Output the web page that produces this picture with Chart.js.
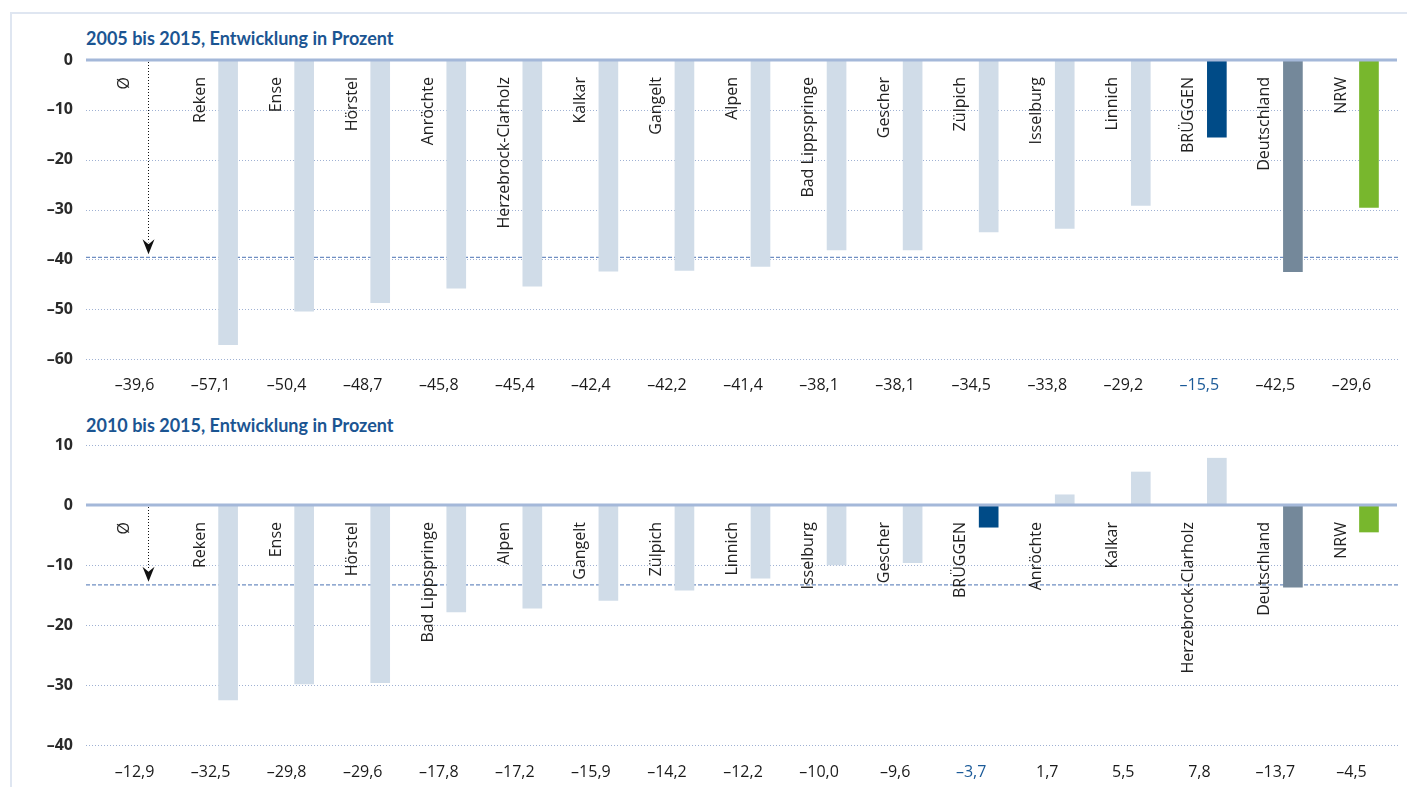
<!DOCTYPE html>
<html>
<head>
<meta charset="utf-8">
<script src="https://cdn.jsdelivr.net/npm/chart.js@4.4.0/dist/chart.umd.min.js"></script>
<style>
  html, body { margin: 0; padding: 0; background: #fff; overflow: hidden; }
  #wrap { position: relative; width: 1407px; height: 787px; }
  .frame-top { position: absolute; left: 10px; top: 12px; right: 0; height: 2px; background: #dfe6f1; }
  .frame-left { position: absolute; left: 10px; top: 12px; width: 2px; bottom: 0; background: #dfe6f1; }
  .title { position: absolute; left: 86px; font: bold 18px Lato, sans-serif; color: #1b5592; line-height: 20px; }
  canvas { position: absolute; left: 0; }
</style>
</head>
<body>
<div id="wrap">
  <div class="frame-top"></div>
  <div class="frame-left"></div>
  <div class="title" style="top:28px">2005 bis 2015, Entwicklung in Prozent</div>
  <div class="title" style="top:415px">2010 bis 2015, Entwicklung in Prozent</div>
  <canvas id="chartTop" width="1407" height="400" style="top:0"></canvas>
  <canvas id="chartBottom" width="1407" height="387" style="top:400px"></canvas>
</div>

<script>
// ---------- Daten 2005 bis 2015 ----------
const catsTop = ["Ø", "Reken", "Ense", "Hörstel", "Anröchte", "Herzebrock-Clarholz", "Kalkar", "Gangelt",
  "Alpen", "Bad Lippspringe", "Gescher", "Zülpich", "Isselburg", "Linnich", "BRÜGGEN", "Deutschland", "NRW"];
const valsTop = [-39.6, -57.1, -50.4, -48.7, -45.8, -45.4, -42.4, -42.2, -41.4, -38.1, -38.1, -34.5, -33.8,
  -29.2, -15.5, -42.5, -29.6];
const avgLineTop = -39.6;

// ---------- Daten 2010 bis 2015 ----------
const catsBottom = ["Ø", "Reken", "Ense", "Hörstel", "Bad Lippspringe", "Alpen", "Gangelt", "Zülpich",
  "Linnich", "Isselburg", "Gescher", "BRÜGGEN", "Anröchte", "Kalkar", "Herzebrock-Clarholz", "Deutschland", "NRW"];
const valsBottom = [-12.9, -32.5, -29.8, -29.6, -17.8, -17.2, -15.9, -14.2, -12.2, -10.0, -9.6, -3.7, 1.7,
  5.5, 7.8, -13.7, -4.5];
const avgLineBottom = -13.3;

const highlight = { "BRÜGGEN": "#004b87", "Deutschland": "#74889a", "NRW": "#78b72d" };
const lightBar = "#d0dce8";

function fmt(v) {
  const s = Math.abs(v).toFixed(1).replace(".", ",");
  return v < 0 ? "–" + s : s;
}

function makeChart(id, cats, vals, yMin, yMax, avgLine, padTop, xHeight, xPad) {
  const deco = {
    id: "deco",
    beforeDatasetsDraw(chart) {
      const c = chart.ctx, y = chart.scales.y;
      c.save();
      // gepunktete Rasterlinien
      c.strokeStyle = "#9fb1d3";
      c.lineWidth = 1;
      c.setLineDash([1, 2]);
      y.ticks.forEach(t => {
        if (t.value === 0) return;
        const py = Math.round(y.getPixelForValue(t.value)) + 0.5;
        c.beginPath(); c.moveTo(86, py); c.lineTo(1399, py); c.stroke();
      });
      // gestrichelte Durchschnittslinie
      c.strokeStyle = "#6f8ec2";
      c.lineWidth = 1.2;
      c.setLineDash([4, 2]);
      const pa = y.getPixelForValue(avgLine);
      c.beginPath(); c.moveTo(86, pa); c.lineTo(1399, pa); c.stroke();
      c.restore();
    },
    afterDatasetsDraw(chart) {
      const c = chart.ctx, x = chart.scales.x, y = chart.scales.y;
      const zero = y.getPixelForValue(0);
      c.save();
      // Nulllinie
      c.strokeStyle = "#a4b8d9";
      c.lineWidth = 3;
      c.beginPath(); c.moveTo(86, zero); c.lineTo(1397, zero); c.stroke();
      // Pfeil zum Durchschnitt
      const ax = Math.round(x.getPixelForValue(0) - 4) + 0.5;
      const tip = y.getPixelForValue(avgLine) - 3;
      c.strokeStyle = "#111";
      c.lineWidth = 1;
      c.setLineDash([1, 2]);
      c.beginPath(); c.moveTo(ax, zero + 2); c.lineTo(ax, tip - 12); c.stroke();
      c.setLineDash([]);
      c.fillStyle = "#111";
      c.beginPath();
      c.moveTo(ax, tip);
      c.lineTo(ax - 6, tip - 15);
      c.lineTo(ax, tip - 10);
      c.lineTo(ax + 6, tip - 15);
      c.closePath(); c.fill();
      // Ortsnamen, senkrecht
      c.font = "16px 'Open Sans', sans-serif";
      c.fillStyle = "#222";
      c.textAlign = "right";
      c.textBaseline = "middle";
      cats.forEach((name, i) => {
        c.save();
        c.translate(x.getPixelForValue(i) - 28, zero + 17);
        c.rotate(-Math.PI / 2);
        c.fillText(name, 0, 0);
        c.restore();
      });
      c.restore();
    }
  };

  return new Chart(document.getElementById(id), {
    type: "bar",
    data: {
      labels: cats,
      datasets: [{
        data: vals.map((v, i) => i === 0 ? null : v),
        backgroundColor: cats.map(n => highlight[n] || lightBar),
        barThickness: 19,
        borderWidth: 0
      }]
    },
    options: {
      responsive: false,
      animation: false,
      layout: { padding: { top: padTop, left: 0, right: 0, bottom: 0 } },
      plugins: { legend: { display: false }, tooltip: { enabled: false } },
      scales: {
        x: {
          grid: { display: false, drawTicks: false },
          border: { display: false },
          ticks: {
            autoSkip: false,
            maxRotation: 0,
            labelOffset: -17.5,
            padding: xPad,
            font: { family: "'Open Sans', sans-serif", size: 16, weight: "500" },
            color: ctx => cats[ctx.index] === "BRÜGGEN" ? "#1b5a98" : "#1a1a1a",
            callback: (v, i) => fmt(vals[i])
          },
          afterFit: s => { s.height = xHeight; }
        },
        y: {
          min: yMin,
          max: yMax,
          grid: { display: false, drawTicks: false },
          border: { display: false },
          ticks: {
            stepSize: 10,
            padding: 41,
            font: { family: "'Open Sans', sans-serif", size: 16, weight: "bold" },
            color: "#2a2a2a",
            callback: v => v < 0 ? "–" + Math.abs(v) : String(v)
          },
          afterFit: s => { s.width = 114; s.paddingTop = 10; s.paddingBottom = 10; }
        }
      }
    },
    plugins: [deco]
  });
}

makeChart("chartTop", catsTop, valsTop, -60, 0, avgLineTop, 60, 41, 17);
makeChart("chartBottom", catsBottom, valsBottom, -40, 10, avgLineBottom, 45, 42, 18);
</script>
</body>
</html>
